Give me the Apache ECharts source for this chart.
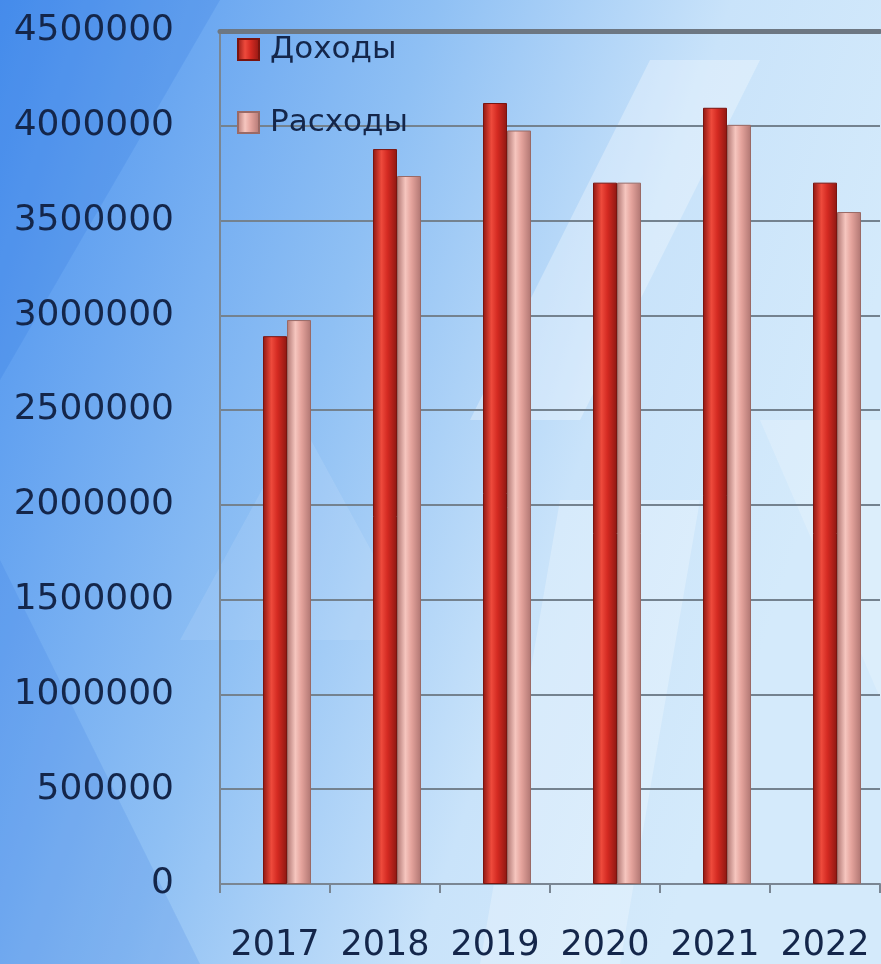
<!DOCTYPE html>
<html>
<head>
<meta charset="utf-8">
<script src="https://cdn.jsdelivr.net/npm/echarts@6/dist/echarts.min.js"></script>
<style>html,body{margin:0;padding:0;}#c{width:881px;height:964px;}</style>
</head>
<body>
<div id="c"></div>
<script>
const categories = ['2017', '2018', '2019', '2020', '2021', '2022'];
const incomeName = 'Доходы';
const expenseName = 'Расходы';
const income = [2890000, 3877000, 4120000, 3700000, 4095000, 3700000];
const expense = [2975000, 3735000, 3975000, 3700000, 4005000, 3545000];
const yMin = 0, yMax = 4500000, yStep = 500000;

const chart = echarts.init(document.getElementById('c'));
const textColor = '#14264a';
const font = 'DejaVu Sans';

function hGrad(edge, mid, light) {
  return new echarts.graphic.LinearGradient(0, 0, 1, 0, [
    {offset: 0, color: edge}, {offset: 0.35, color: light}, {offset: 0.6, color: mid}, {offset: 1, color: edge}
  ]);
}

chart.setOption({
  animation: false,
  backgroundColor: new echarts.graphic.LinearGradient(0, 0, 1, 0.3, [
    {offset: 0, color: '#4c92ee'},
    {offset: 0.45, color: '#8fc0f4'},
    {offset: 0.75, color: '#c9e3fa'},
    {offset: 1, color: '#d4eafb'}
  ]),
  graphic: [
    {type: 'polygon', silent: true, z: -10, shape: {points: [[0,0],[220,0],[0,380]]}, style: {fill: 'rgba(40,110,220,0.18)'}},
    {type: 'polygon', silent: true, z: -10, shape: {points: [[0,560],[200,964],[0,964]]}, style: {fill: 'rgba(40,110,220,0.15)'}},
    {type: 'polygon', silent: true, z: -10, shape: {points: [[650,60],[760,60],[580,420],[470,420]]}, style: {fill: 'rgba(255,255,255,0.3)'}},
    {type: 'polygon', silent: true, z: -10, shape: {points: [[560,500],[700,500],[620,964],[480,964]]}, style: {fill: 'rgba(255,255,255,0.25)'}},
    {type: 'polygon', silent: true, z: -10, shape: {points: [[300,420],[420,640],[180,640]]}, style: {fill: 'rgba(255,255,255,0.1)'}},
    {type: 'polygon', silent: true, z: -10, shape: {points: [[760,420],[881,420],[881,700]]}, style: {fill: 'rgba(255,255,255,0.2)'}}
  ],
  legend: {
    left: 232, top: 29, orient: 'vertical',
    data: [incomeName, expenseName],
    itemWidth: 21, itemHeight: 21, itemGap: 42,
    icon: 'rect',
    textStyle: {fontFamily: font, fontSize: 31, color: textColor, padding: [0, 0, 0, 6]}
  },
  grid: {left: 220, right: 1, top: 31, bottom: 80, containLabel: false, outerBoundsMode: 'none'},
  xAxis: [{
    type: 'category', data: categories,
    axisLine: {lineStyle: {color: '#7a8693', width: 2}},
    axisTick: {show: true, length: 9, lineStyle: {color: '#7a8693', width: 2}},
    axisLabel: {fontFamily: font, fontSize: 35, color: textColor, margin: 44, interval: 0, hideOverlap: false}
  }, {
    type: 'category', data: categories, position: 'top',
    axisLine: {show: true, lineStyle: {color: '#6d7782', width: 5}},
    axisTick: {show: false}, axisLabel: {show: false}
  }],
  yAxis: {
    type: 'value', min: yMin, max: yMax, interval: yStep,
    axisLine: {show: true, lineStyle: {color: '#7a8693', width: 2}},
    axisTick: {show: false},
    splitLine: {lineStyle: {color: '#74828f', width: 2}},
    axisLabel: {fontFamily: font, fontSize: 36, color: textColor, margin: 46, formatter: v => String(v)}
  },
  series: [
    {name: '_pad', type: 'bar', data: categories.map(() => null), barWidth: 24, barGap: '0%', silent: true},
    {name: incomeName, type: 'bar', data: income, barWidth: 24, barGap: '0%',
      itemStyle: {color: hGrad('#8e1712', '#d42a22', '#ee4a3c'), borderColor: '#7a140f', borderWidth: 1}},
    {name: expenseName, type: 'bar', data: expense, barWidth: 24, barGap: '0%',
      itemStyle: {color: hGrad('#b07672', '#e4a39c', '#f6c6bf'), borderColor: '#9a6a66', borderWidth: 1}}
  ],
  color: ['rgba(0,0,0,0)', '#d42a22', '#eeaaa2']
});
</script>
</body>
</html>
